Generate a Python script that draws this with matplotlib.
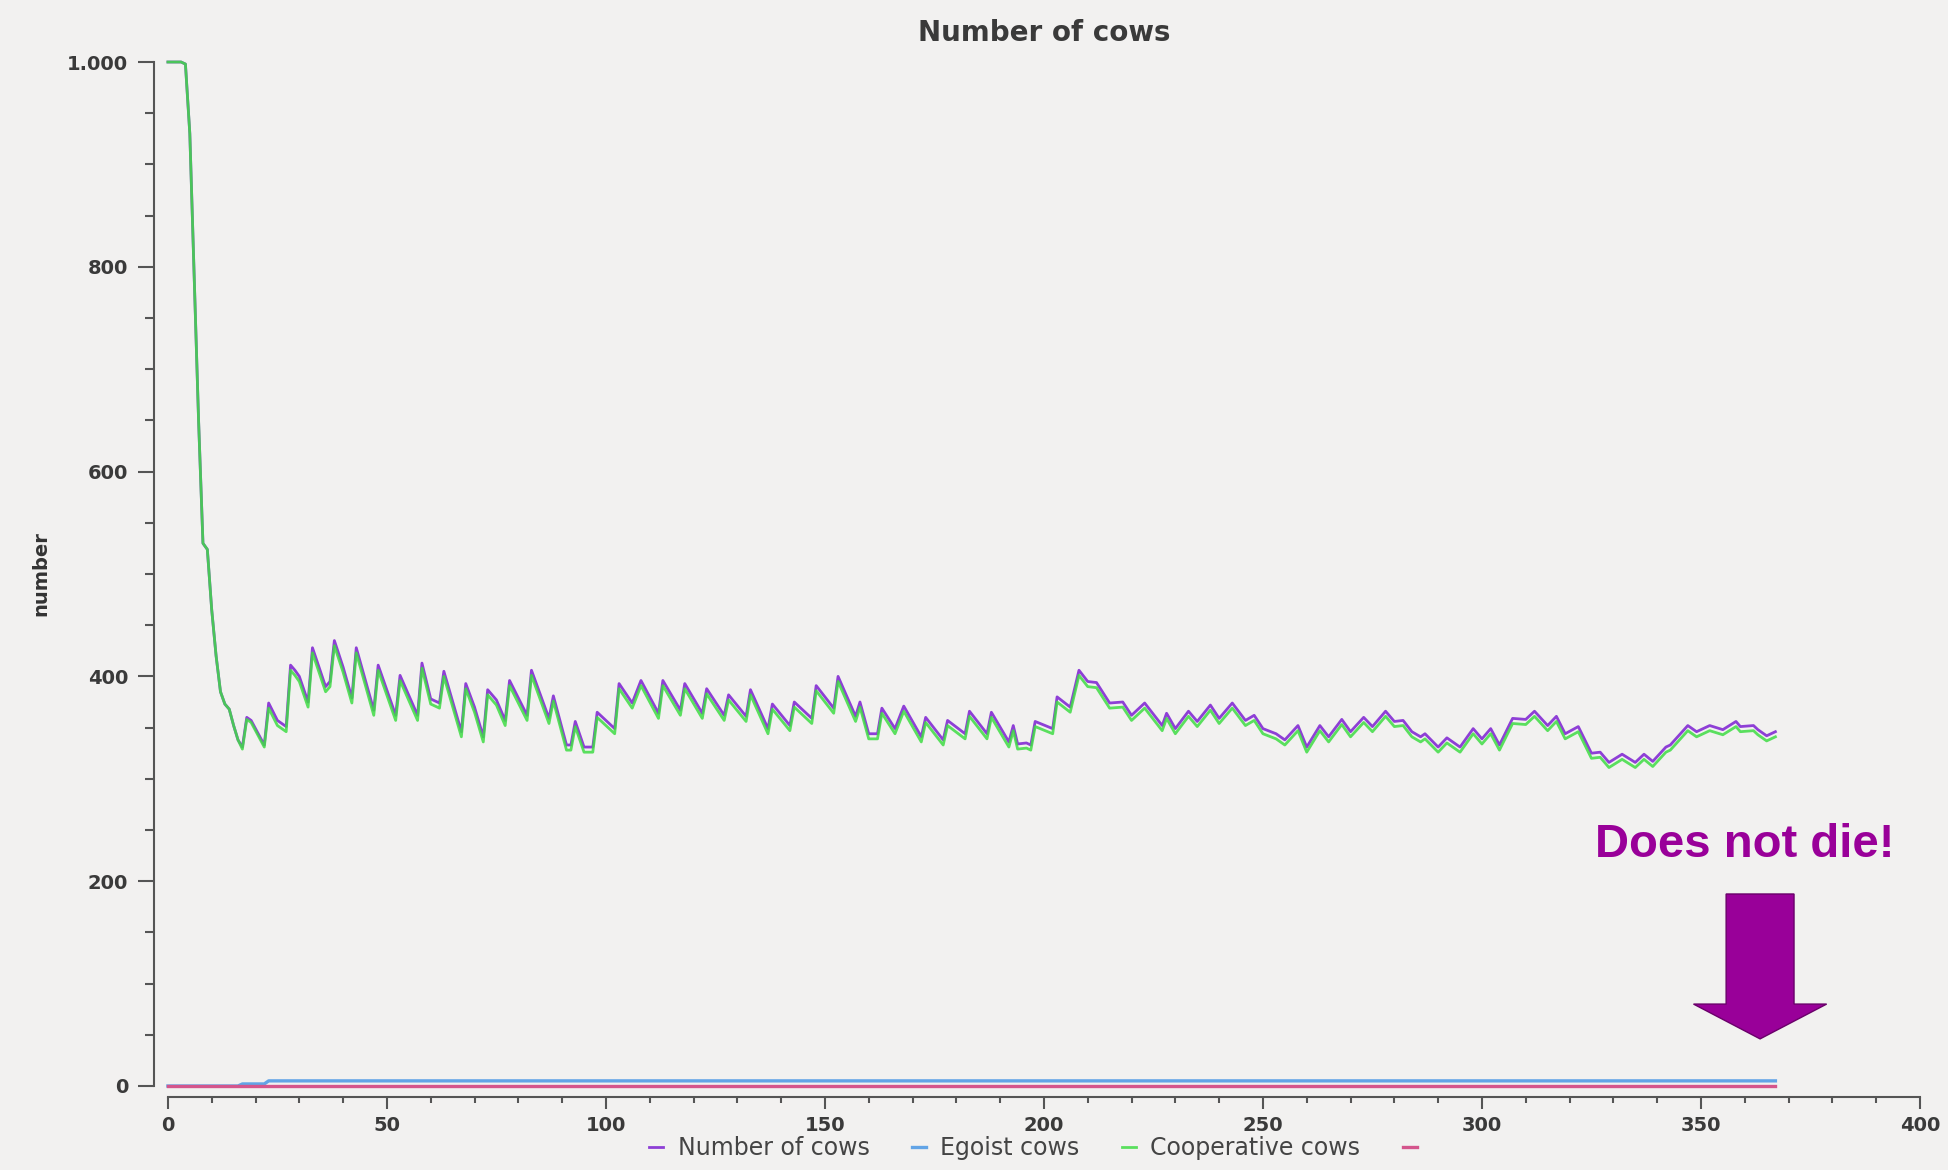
import matplotlib.pyplot as plt
from matplotlib.ticker import MultipleLocator, FuncFormatter
from matplotlib.patches import FancyArrow

# values (tick = step of the simulation)
steps = [0, 3, 4, 5, 6, 7, 8, 9, 10, 11, 12, 13, 14, 15, 16, 17, 18, 19, 20, 21,
         22, 23, 25, 27, 28, 29, 30, 32, 33, 36, 37, 38, 40, 42, 43, 47, 48, 52, 53, 57,
         58, 60, 62, 63, 67, 68, 70, 72, 73, 75, 77, 78, 82, 83, 87, 88, 91, 92, 93, 95,
         97, 98, 102, 103, 106, 108, 112, 113, 117, 118, 122, 123, 127, 128, 132, 133, 137, 138, 142, 143,
         147, 148, 152, 153, 157, 158, 160, 162, 163, 166, 168, 172, 173, 177, 178, 182, 183, 187, 188, 192,
         193, 194, 196, 197, 198, 202, 203, 206, 208, 210, 212, 215, 218, 220, 223, 227, 228, 230, 233, 235,
         238, 240, 243, 246, 248, 250, 253, 255, 258, 260, 263, 265, 268, 270, 273, 275, 278, 280, 282, 284,
         286, 287, 290, 292, 295, 298, 300, 302, 304, 307, 310, 312, 315, 317, 319, 322, 325, 327, 329, 332,
         335, 337, 339, 342, 343, 347, 349, 352, 355, 358, 359, 362, 363, 365, 367]

total_cows = [1000, 1000, 998, 930, 790, 650, 530, 524, 465, 420, 385, 373, 368, 352, 338, 331, 360, 357, 349, 341,
              333, 374, 357, 351, 411, 406, 400, 375, 428, 390, 395, 435, 409, 379, 428, 367, 411, 362, 401, 362,
              413, 378, 374, 405, 346, 393, 370, 341, 387, 377, 357, 396, 362, 406, 359, 381, 333, 333, 356, 331,
              331, 365, 349, 393, 374, 396, 364, 396, 367, 393, 364, 388, 362, 382, 361, 387, 349, 373, 352, 375,
              359, 391, 369, 400, 361, 375, 344, 344, 369, 349, 371, 341, 360, 338, 357, 344, 366, 344, 365, 336,
              352, 334, 335, 333, 356, 349, 380, 370, 406, 395, 394, 374, 375, 362, 374, 352, 364, 349, 366, 356,
              372, 359, 374, 357, 362, 349, 344, 338, 352, 331, 352, 341, 358, 346, 360, 351, 366, 356, 357, 346,
              341, 344, 331, 340, 331, 349, 339, 349, 333, 359, 358, 366, 352, 361, 344, 351, 325, 326, 316, 324,
              316, 324, 317, 331, 333, 352, 346, 352, 348, 356, 351, 352, 348, 342, 346]

coop_cows = [1000, 1000, 998, 930, 790, 650, 530, 524, 465, 420, 385, 373, 368, 352, 338, 329, 358, 355, 347, 339,
             331, 369, 352, 346, 406, 401, 395, 370, 423, 385, 390, 430, 404, 374, 423, 362, 406, 357, 396, 357,
             408, 373, 369, 400, 341, 388, 365, 336, 382, 372, 352, 391, 357, 401, 354, 376, 328, 328, 351, 326,
             326, 360, 344, 388, 369, 391, 359, 391, 362, 388, 359, 383, 357, 377, 356, 382, 344, 368, 347, 370,
             354, 386, 364, 395, 356, 370, 339, 339, 364, 344, 366, 336, 355, 333, 352, 339, 361, 339, 360, 331,
             347, 329, 330, 328, 351, 344, 375, 365, 401, 390, 389, 369, 370, 357, 369, 347, 359, 344, 361, 351,
             367, 354, 369, 352, 357, 344, 339, 333, 347, 326, 347, 336, 353, 341, 355, 346, 361, 351, 352, 341,
             336, 339, 326, 335, 326, 344, 334, 344, 328, 354, 353, 361, 347, 356, 339, 346, 320, 321, 311, 319,
             311, 319, 312, 326, 328, 347, 341, 347, 343, 351, 346, 347, 343, 337, 341]

egoist_steps = [0, 16, 17, 22, 23, 367]
egoist_cows = [0, 0, 2, 2, 5, 5]

other_steps = [0, 367]
other_cows = [0, 0]

bg = "#f2f1f0"
purple = "#8e3fd6"
blue = "#62a4e6"
green = "#3fdc44"
pink = "#d4558c"
grey = "#555555"

fig = plt.figure(figsize=(19.48, 11.70), dpi=100, facecolor=bg)
ax = fig.add_axes([0.0862, 0.0718, 0.8994, 0.8752], facecolor=bg)

ax.plot(steps, total_cows, color=purple, lw=2.0, label="Number of cows", clip_on=False)
ax.plot(egoist_steps, egoist_cows, color=blue, lw=2.4, label="Egoist cows", clip_on=False)
ax.plot(steps, coop_cows, color=green, lw=2.0, alpha=0.85, label="Cooperative cows", clip_on=False)
ax.plot(other_steps, other_cows, color=pink, lw=2.4, label=" ", clip_on=False)

ax.set_xlim(0, 400)
ax.set_ylim(0, 1000)

# detached axis lines like the original chart
for side in ["top", "right"]:
    ax.spines[side].set_visible(False)
ax.spines["left"].set_position(("outward", 10))
ax.spines["left"].set_bounds(0, 1000)
ax.spines["bottom"].set_position(("outward", 8))
ax.spines["bottom"].set_bounds(0, 400)
for side in ["left", "bottom"]:
    ax.spines[side].set_color(grey)
    ax.spines[side].set_linewidth(1.5)

ax.xaxis.set_major_locator(MultipleLocator(50))
ax.xaxis.set_minor_locator(MultipleLocator(10))
ax.yaxis.set_major_locator(MultipleLocator(200))
ax.yaxis.set_minor_locator(MultipleLocator(50))
ax.yaxis.set_major_formatter(FuncFormatter(lambda v, p: f"{int(v):,}".replace(",", ".")))

ax.tick_params(axis="y", which="major", length=11.5, width=1.5, color=grey, pad=7)
ax.tick_params(axis="y", which="minor", length=6.5, width=1.5, color=grey)
ax.tick_params(axis="x", which="major", length=8.6, width=1.5, color=grey, pad=5)
ax.tick_params(axis="x", which="minor", length=4.5, width=1.5, color=grey)
for lbl in ax.get_xticklabels() + ax.get_yticklabels():
    lbl.set_fontsize(14)
    lbl.set_fontweight("bold")
    lbl.set_color("#3a3a3a")

ax.set_title("Number of cows", fontsize=20, fontweight="bold", color="#3a3a3a", pad=15)
ax.set_ylabel("number", fontsize=14, fontweight="bold", color="#333333")
ax.yaxis.set_label_coords(-0.067, 0.5)

leg = ax.legend(loc="center", bbox_to_anchor=(0.5, -0.0605), ncol=4, frameon=False,
                fontsize=17, handlelength=0.6, handletextpad=0.6, columnspacing=1.8)
for txt in leg.get_texts():
    txt.set_color("#444444")

# the added note
ax.text(360, 235, "Does not die!", ha="center", va="center", fontsize=34, fontweight="bold",
        color="#990099", family="Liberation Sans")
arrow = FancyArrow(363.5, 187.5, 0, -141.5, width=15.5, head_width=30.4, head_length=34,
                   length_includes_head=True, facecolor="#990099", edgecolor="#6a006a",
                   lw=1, clip_on=False)
ax.add_patch(arrow)

fig.savefig("out.png", dpi=100, facecolor=bg)
